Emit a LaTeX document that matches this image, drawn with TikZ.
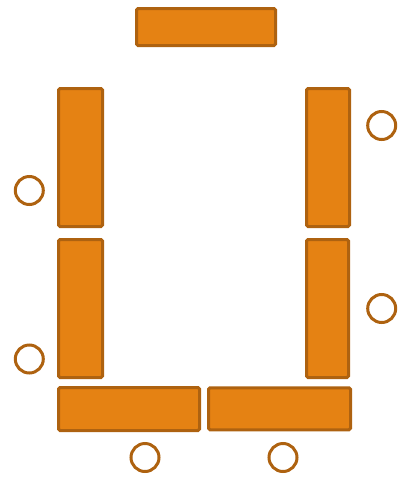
\documentclass[tikz,border=0pt]{standalone}
\definecolor{segfill}{HTML}{E58213}
\definecolor{segline}{HTML}{AE6210}
\begin{document}
\begin{tikzpicture}[x=1pt,y=-1pt,
  seg/.style={draw=segline,fill=segfill,line width=3pt,rounded corners=1.5pt,inner sep=0pt,rectangle},
  dot/.style={draw=segline,fill=white,line width=3pt,circle,inner sep=0pt,minimum size=28pt}]
\useasboundingbox (0,0) rectangle (402,477);
\node[seg,minimum width=139pt,minimum height=37pt] (a) at (206,27) {};
\node[seg,minimum width=44pt,minimum height=138pt] (f) at (80.5,157.5) {};
\node[seg,minimum width=44pt,minimum height=138pt] (e) at (80.5,308.5) {};
\node[seg,minimum width=43pt,minimum height=138pt] (b) at (328,157.5) {};
\node[seg,minimum width=42pt,minimum height=138pt] (c) at (327.5,308.5) {};
\node[seg,minimum width=141pt,minimum height=43pt] (d1) at (129,409) {};
\node[seg,minimum width=142pt,minimum height=42pt] (d2) at (279.5,408.8) {};
\node[dot] (p1) at (29.3,190.5) {};
\node[dot] (p2) at (29.3,359) {};
\node[dot] (p3) at (381.7,125.5) {};
\node[dot] (p4) at (381.7,308.5) {};
\node[dot] (p5) at (145,457.5) {};
\node[dot] (p6) at (283,457.5) {};
\end{tikzpicture}
\end{document}
